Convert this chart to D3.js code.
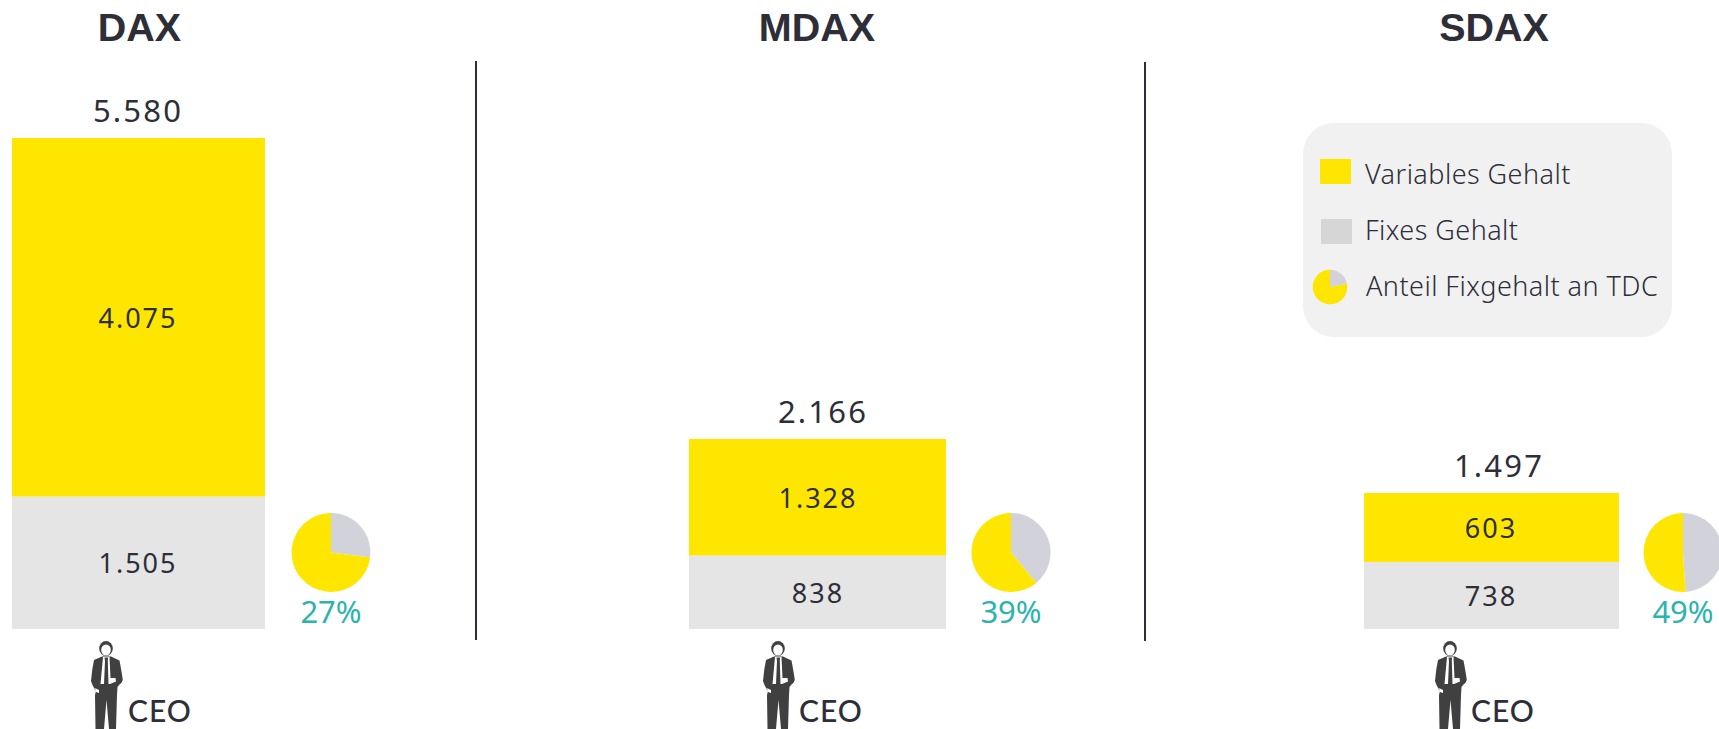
<!DOCTYPE html>
<html><head><meta charset="utf-8">
<script src="https://cdnjs.cloudflare.com/ajax/libs/d3/7.8.5/d3.min.js"></script>
<style>html,body{margin:0;padding:0;background:#fff;overflow:hidden}svg{display:block}</style>
</head><body><svg id="c" width="1719" height="729"></svg>
<script>
// ---- data ----
const indices = ["DAX","MDAX","SDAX"];
const totals = ["5.580","2.166","1.497"];
const totalValues = [5580,2166,1497];
const fixedValues = [1505,838,738];
const variableValues = [4075,1328,603];
const fixedShare = [27,39,49];
const personLabel = "CEO";
const legendLabels = ["Variables Gehalt","Fixes Gehalt","Anteil Fixgehalt an TDC"];
const legendPieShare = [22];
const fmt = d3.formatLocale({decimal:",",thousands:".",grouping:[3],currency:["","€"]}).format(",");

// ---- layout ----
const C = {yellow:"#FFE600",grey:"#E5E5E6",pieGrey:"#D2D2DA",teal:"#2DB3AE",ink:"#2E2E38",legendBg:"#F1F1F2",legendGrey:"#D6D6D6",man:"#404040"};
const FONT = "'Noto Sans',sans-serif";
const panels = [
 {bar:[12,265],title:139.5,totalX:138,pie:331,man:91,ceo:128,domainMax:5580,labX:138},
 {bar:[689,946],title:817,totalX:823,pie:1011,man:763,ceo:799,domainMax:5597,labX:818},
 {bar:[1364,1619],title:1494,totalX:1499,pie:1683,man:1435,ceo:1471,domainMax:5405,labX:1491}
];
const svg = d3.select("#c");
const barBase = 629, barTop = 138, pieY = 552.5, pieR = 39.5;
const pieGen = d3.pie().sort(null);
const arcGen = d3.arc().innerRadius(0);

function drawPie(g, share, r){
  const arcs = pieGen([share,100-share]);
  g.selectAll("path.s").data(arcs).join("path").attr("class","s")
   .attr("d",d=>arcGen.outerRadius(r)(d))
   .attr("fill",(d,i)=>i===0?C.pieGrey:C.yellow);
}
function drawMan(g){
  g.append("ellipse").attr("cx",15).attr("cy",7.5).attr("rx",6.8).attr("ry",7.5).attr("fill",C.man);
  g.append("ellipse").attr("cx",15).attr("cy",9).attr("rx",4.8).attr("ry",5.6).attr("fill","#fff");
  g.append("path").attr("fill",C.man).attr("d","M3 19 L11 15.5 L20 15.5 L28.5 19.5 Q30.5 30 31.7 38 Q32 41 28 44 L26.5 46 L26 54 L25 88 L18 88 L15.5 59 L13 88 L4.5 88 L4 54 L5 50 Q1 44 0 40 Q1 28 3 19 Z");
  g.append("path").attr("fill","#fff").attr("d","M12 16 L18.5 16 L19.5 37 L24.5 37 L25 40.5 L19 43 L9.5 43 Z");
  g.append("path").attr("fill",C.man).attr("d","M13.5 16.5 L17 16.5 L16.8 20 L17.5 43 L13 43 L14 20 Z");
  g.append("path").attr("fill","#fff").attr("d","M4 47 L8 49 L8 52 L5 51 Z");
}

panels.forEach((p,i)=>{
  const y = d3.scaleLinear().domain([0,p.domainMax]).range([barBase,barTop]);
  const x = d3.scaleLinear().domain([0,1]).range(p.bar);
  const g = svg.append("g");
  g.append("rect").attr("x",x(0)).attr("width",x(1)-x(0))
    .attr("y",y(fixedValues[i])).attr("height",y(0)-y(fixedValues[i])).attr("fill",C.grey);
  g.append("rect").attr("x",x(0)).attr("width",x(1)-x(0))
    .attr("y",y(totalValues[i])).attr("height",y(fixedValues[i])-y(totalValues[i])).attr("fill",C.yellow);
  const t=(s,xx,yy,size,fill,anchor="middle",extra={})=>{
    const e=g.append("text").text(s).attr("x",xx).attr("y",yy).attr("font-size",size).attr("fill",fill)
     .attr("font-family",FONT).attr("text-anchor",anchor);
    Object.entries(extra).forEach(([k,v])=>e.attr(k,v));return e;};
  t(indices[i],p.title,41,39.5,C.ink,"middle",{"font-family":"'Liberation Sans',sans-serif","font-weight":700});
  t(totals[i],p.totalX,y(totalValues[i])-16,31,C.ink,"middle",{"letter-spacing":2.2});
  t(fmt(variableValues[i]),p.labX,(y(totalValues[i])+y(fixedValues[i]))/2+10.5,27,C.ink,"middle",{"letter-spacing":2});
  t(fmt(fixedValues[i]),p.labX,(y(fixedValues[i])+y(0))/2+10.5,27,C.ink,"middle",{"letter-spacing":2});
  drawPie(svg.append("g").attr("transform",`translate(${p.pie},${pieY})`),fixedShare[i],pieR);
  t(fixedShare[i]+"%",p.pie,623,31,C.teal);
  drawMan(svg.append("g").attr("transform",`translate(${p.man},641)`));
  t(personLabel,p.ceo,722,30,C.ink,"start",{"font-family":"Lato,sans-serif","font-weight":500,"letter-spacing":1});
});

// dividers
[[476,61,640],[1145,62,641]].forEach(([x,a,b])=>svg.append("line").attr("x1",x).attr("x2",x).attr("y1",a).attr("y2",b).attr("stroke",C.ink).attr("stroke-width",2));

// legend
const lg = svg.append("g");
lg.append("rect").attr("x",1303).attr("y",123).attr("width",369).attr("height",214).attr("rx",31).attr("fill",C.legendBg);
lg.append("rect").attr("x",1320).attr("y",159).attr("width",31).attr("height",25).attr("fill",C.yellow);
lg.append("rect").attr("x",1321).attr("y",219).attr("width",31).attr("height",25).attr("fill",C.legendGrey);
drawPie(lg.append("g").attr("transform","translate(1330,287)"),legendPieShare[0],17.3);
[[1365,184],[1365,240],[1366,296]].forEach(([x,y],i)=>lg.append("text").text(legendLabels[i]).attr("x",x).attr("y",y)
  .attr("font-size",27).attr("font-weight",300).attr("letter-spacing",0.45).attr("font-family",FONT).attr("fill",C.ink));
</script></body></html>
